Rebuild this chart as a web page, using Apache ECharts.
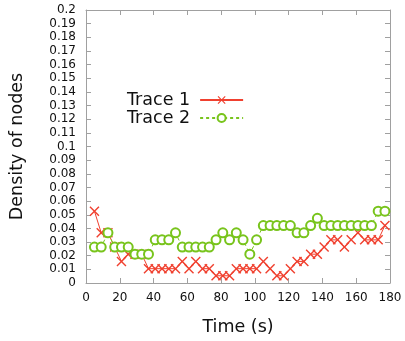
<!DOCTYPE html>
<html>
<head>
<meta charset="utf-8">
<script src="https://cdn.jsdelivr.net/npm/echarts@6/dist/echarts.min.js"></script>
<style>
  html, body { margin: 0; padding: 0; background: #fff; }
  #chart { width: 405px; height: 341px; }
</style>
</head>
<body>
<div id="chart"></div>
<script>
// time samples (s)
const times = [5, 9, 13, 17, 21, 25, 29, 33, 37, 41, 45, 49, 53, 57, 61, 65, 69, 73, 77, 81, 85, 89,
  93, 97, 101, 105, 109, 113, 117, 121, 125, 129, 133, 137, 141, 145, 149, 153, 157, 161, 165, 169, 173, 177];

// density of nodes
const trace1 = [0.0526, 0.0368, 0.0368, 0.0263, 0.0158, 0.0211, 0.0211, 0.0211, 0.0105, 0.0105, 0.0105,
  0.0105, 0.0105, 0.0158, 0.0105, 0.0158, 0.0105, 0.0105, 0.0053, 0.0053, 0.0053, 0.0105,
  0.0105, 0.0105, 0.0105, 0.0158, 0.0105, 0.0053, 0.0053, 0.0105, 0.0158, 0.0158, 0.0211,
  0.0211, 0.0263, 0.0316, 0.0316, 0.0263, 0.0316, 0.0368, 0.0316, 0.0316, 0.0316, 0.0421];

const trace2 = [0.0263, 0.0263, 0.0368, 0.0263, 0.0263, 0.0263, 0.0211, 0.0211, 0.0211, 0.0316, 0.0316,
  0.0316, 0.0368, 0.0263, 0.0263, 0.0263, 0.0263, 0.0263, 0.0316, 0.0368, 0.0316, 0.0368,
  0.0316, 0.0211, 0.0316, 0.0421, 0.0421, 0.0421, 0.0421, 0.0421, 0.0368, 0.0368, 0.0421,
  0.0474, 0.0421, 0.0421, 0.0421, 0.0421, 0.0421, 0.0421, 0.0421, 0.0421, 0.0526, 0.0526];

const seriesNames = ['Trace 1', 'Trace 2'];

const red = '#f0402f';
const green = '#78c41c';
const frame = '#a0a0a0';
const font = 'DejaVu Sans';

// thin X cross drawn as a filled outline
const crossSymbol = 'path://M0,1L1,0L5,4L9,0L10,1L6,5L10,9L9,10L5,6L1,10L0,9L4,5Z';

const chart = echarts.init(document.getElementById('chart'));

// gnuplot-like frame: inward ticks on all four sides
const tickStyle = { show: true, inside: true, length: 5, lineStyle: { color: frame } };
const lineStyle = { show: true, onZero: false, lineStyle: { color: frame } };

const option = {
  animation: false,
  grid: { left: 82, right: 15, top: 10, bottom: 56 },
  legend: {
    data: seriesNames,
    orient: 'vertical',
    align: 'right',
    left: 127,
    top: 91,
    padding: 0,
    itemGap: 0,
    itemWidth: 43,
    itemHeight: 10,
    textStyle: { fontFamily: font, fontSize: 17.5, color: '#111', padding: [0, 5, 0, 0] },
  },
  xAxis: [
    {
      type: 'value',
      min: 0,
      max: 180,
      interval: 20,
      name: 'Time (s)',
      nameLocation: 'middle',
      nameGap: 35,
      nameTextStyle: { fontFamily: font, fontSize: 17.5, color: '#111' },
      axisLine: lineStyle,
      axisTick: tickStyle,
      axisLabel: { fontFamily: font, fontSize: 12, color: '#111', margin: 9 },
      splitLine: { show: false },
    },
    {
      type: 'value',
      position: 'top',
      min: 0,
      max: 180,
      interval: 20,
      axisLine: lineStyle,
      axisTick: tickStyle,
      axisLabel: { show: false },
      splitLine: { show: false },
    },
  ],
  yAxis: [
    {
      type: 'value',
      min: 0,
      max: 0.2,
      interval: 0.01,
      name: 'Density of nodes',
      nameLocation: 'middle',
      nameGap: 60,
      nameTextStyle: { fontFamily: font, fontSize: 17.5, color: '#111' },
      axisLine: lineStyle,
      axisTick: tickStyle,
      axisLabel: {
        fontFamily: font,
        fontSize: 12,
        color: '#111',
        margin: 10,
        formatter: (v) => String(+v.toFixed(2)),
      },
      splitLine: { show: false },
    },
    {
      type: 'value',
      position: 'right',
      min: 0,
      max: 0.2,
      interval: 0.01,
      axisLine: lineStyle,
      axisTick: tickStyle,
      axisLabel: { show: false },
      splitLine: { show: false },
    },
  ],
  series: [
    {
      name: seriesNames[0],
      type: 'line',
      data: times.map((t, i) => [t, trace1[i]]),
      symbol: crossSymbol,
      symbolSize: 10,
      showAllSymbol: true,
      itemStyle: { color: red },
      lineStyle: { color: red, width: 1 },
    },
    {
      name: seriesNames[1],
      type: 'line',
      data: times.map((t, i) => [t, trace2[i]]),
      symbol: 'emptyCircle',
      symbolSize: 9,
      showAllSymbol: true,
      itemStyle: { color: green, borderWidth: 1.2 },
      lineStyle: { color: green, width: 1, type: [3, 3] },
    },
  ],
};

chart.setOption(option);
</script>
</body>
</html>
